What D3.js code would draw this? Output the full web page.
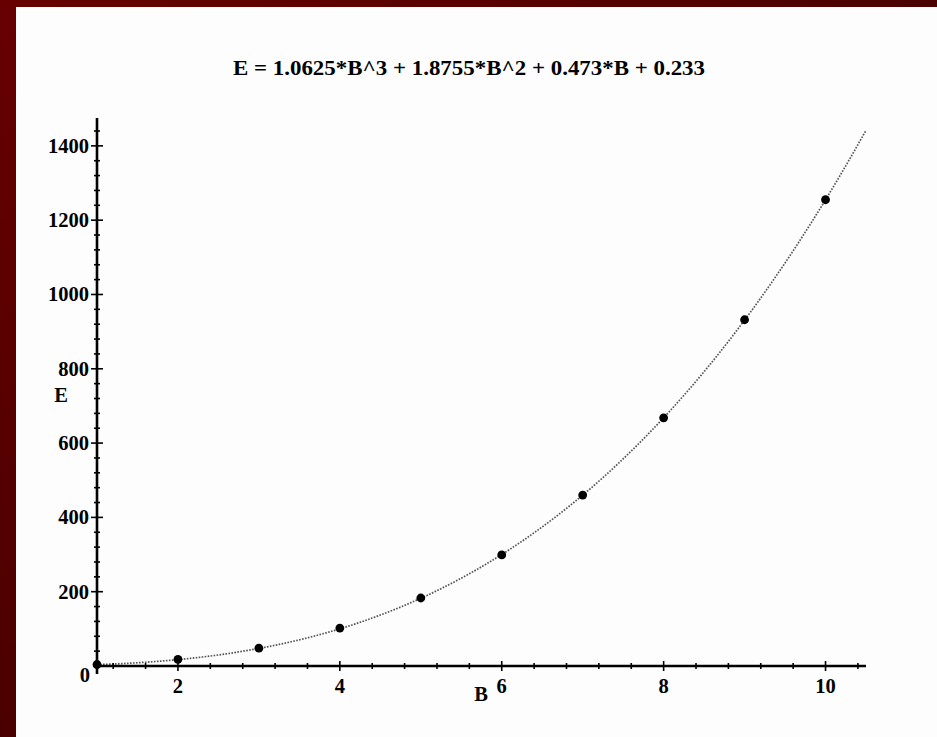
<!DOCTYPE html>
<html>
<head>
<meta charset="utf-8">
<script src="https://cdn.jsdelivr.net/npm/d3@7"></script>
<style>
  html, body { margin: 0; padding: 0; background: #fff; }
  svg { display: block; }
  text { font-family: "Liberation Serif", "Times New Roman", serif; font-weight: bold; fill: #000; }
</style>
</head>
<body>
<svg id="chart" width="937" height="737"></svg>
<script>
// Measured points (B, E)
const bValues = [1, 2, 3, 4, 5, 6, 7, 8, 9, 10];
const eValues = [4, 18, 48, 102, 183, 299, 460, 668, 932, 1255];

// Fitted cubic: E = c3*B^3 + c2*B^2 + c1*B + c0
const coefficients = [1.0625, 1.8755, 0.473, 0.233];
const titleText = "E = 1.0625*B^3 + 1.8755*B^2 + 0.473*B + 0.233";

const xTicks = [2, 4, 6, 8, 10];
const yTicks = [0, 200, 400, 600, 800, 1000, 1200, 1400];
const xMinorStep = 0.4;
const yMinorStep = 40;

const svg = d3.select("#chart");
const W = 937, H = 737;

// Maroon frame
const defs = svg.append("defs");
const grad = defs.append("linearGradient").attr("id", "frame")
  .attr("x1", "0%").attr("y1", "0%").attr("x2", "100%").attr("y2", "100%");
grad.append("stop").attr("offset", "0%").attr("stop-color", "#680000");
grad.append("stop").attr("offset", "100%").attr("stop-color", "#2e0000");
svg.append("rect").attr("width", W).attr("height", H).attr("fill", "url(#frame)");
svg.append("rect").attr("x", 16).attr("y", 7).attr("width", W - 16).attr("height", H - 7).attr("fill", "#fdfdfd");

const x = d3.scaleLinear().domain([1, 10.5]).range([97, 866]);
const y = d3.scaleLinear().domain([0, 1475]).range([666, 118]);

// Title
svg.append("text").attr("x", 469).attr("y", 75).attr("text-anchor", "middle")
  .attr("textLength", 472).attr("lengthAdjust", "spacingAndGlyphs")
  .style("font-size", "21px").text(titleText);

// Fitted curve
const fit = b => ((coefficients[0] * b + coefficients[1]) * b + coefficients[2]) * b + coefficients[3];
const curveB = d3.range(1, 10.5001, 0.05);
svg.append("path")
  .datum(curveB)
  .attr("fill", "none")
  .attr("stroke", "#555")
  .attr("stroke-width", 1.7)
  .attr("stroke-dasharray", "1.6,1.4")
  .attr("d", d3.line().x(b => x(b)).y(b => y(fit(b))));

// Axes
const axisG = svg.append("g");
axisG.append("line").attr("x1", x(1)).attr("x2", x(10.5)).attr("y1", y(0)).attr("y2", y(0))
  .attr("stroke", "#000").attr("stroke-width", 2.6);
axisG.append("line").attr("x1", x(1)).attr("x2", x(1)).attr("y1", y(0) + 8).attr("y2", y(1475))
  .attr("stroke", "#000").attr("stroke-width", 2.6);

// x ticks (minor every 0.4, major at labels)
const xMinor = d3.range(1.2, 10.5, xMinorStep).map(v => +v.toFixed(2));
axisG.selectAll(".xt").data(xMinor).join("line")
  .attr("x1", d => x(d)).attr("x2", d => x(d))
  .attr("y1", d => y(0) - (xTicks.includes(Math.round(d * 10) / 10) ? 5 : 3))
  .attr("y2", d => y(0) + (xTicks.includes(Math.round(d * 10) / 10) ? 5 : 3))
  .attr("stroke", "#000").attr("stroke-width", 1.6);
axisG.selectAll(".xl").data(xTicks).join("text")
  .attr("x", d => x(d)).attr("y", y(0) + 27).attr("text-anchor", "middle")
  .style("font-size", "20.5px").text(d => d);

// y ticks (minor every 40)
const yMinor = d3.range(40, 1475, yMinorStep);
axisG.selectAll(".yt").data(yMinor).join("line")
  .attr("x1", d => x(1) - (d % 200 === 0 ? 6 : 3)).attr("x2", d => x(1) + (d % 200 === 0 ? 6 : 3))
  .attr("y1", d => y(d)).attr("y2", d => y(d))
  .attr("stroke", "#000").attr("stroke-width", 1.6);
axisG.selectAll(".yl").data(yTicks.filter(d => d > 0)).join("text")
  .attr("x", x(1) - 8).attr("y", d => y(d) + 7).attr("text-anchor", "end")
  .style("font-size", "20.5px").text(d => d);
axisG.append("text").attr("x", x(1) - 7).attr("y", y(0) + 16).attr("text-anchor", "end")
  .style("font-size", "20.5px").text(yTicks[0]);

// Axis titles
svg.append("text").attr("x", 61).attr("y", 402).attr("text-anchor", "middle")
  .style("font-size", "20.5px").text("E");
svg.append("text").attr("x", 481).attr("y", 701).attr("text-anchor", "middle")
  .style("font-size", "20.5px").text("B");

// Data points
svg.selectAll(".pt").data(bValues.map((b, i) => [b, eValues[i]])).join("circle")
  .attr("cx", d => x(d[0])).attr("cy", d => y(d[1])).attr("r", 4.4).attr("fill", "#000");
</script>
</body>
</html>
